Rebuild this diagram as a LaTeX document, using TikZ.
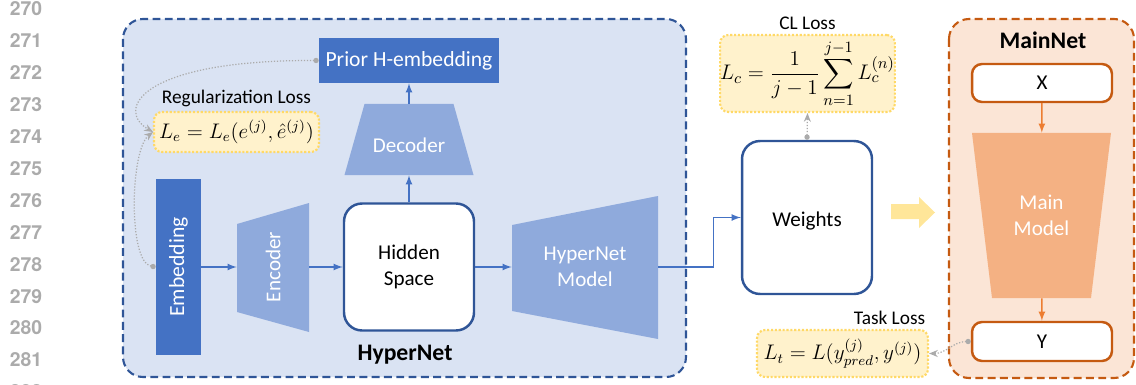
\documentclass[tikz,border=0pt]{standalone}
\usepackage{fontspec}
\setmainfont{Carlito}
\newfontfamily\numfont{TeX Gyre Heros}
\usepackage{amsmath}
\usepackage{graphicx}
\usetikzlibrary{positioning,arrows.meta}

\definecolor{hyperfill}{HTML}{DAE3F3}
\definecolor{hyperline}{HTML}{2F5597}
\definecolor{embblue}{HTML}{4472C4}
\definecolor{trapblue}{HTML}{8FAADC}
\definecolor{flowblue}{HTML}{4472C4}
\definecolor{lossfill}{HTML}{FFF2CC}
\definecolor{lossline}{HTML}{FFD966}
\definecolor{bigarrow}{HTML}{FFE699}
\definecolor{mainfill}{HTML}{FBE5D6}
\definecolor{mainline}{HTML}{C55A11}
\definecolor{mainmodel}{HTML}{F4B183}
\definecolor{mainarrow}{HTML}{ED7D31}
\definecolor{dotgray}{HTML}{ABABAB}
\definecolor{numgray}{HTML}{ABABAB}

\begin{document}
\begin{tikzpicture}[x=0.02cm, y=-0.02cm,
    lineno/.style={font=\numfont\bfseries\fontsize{11}{13}\selectfont, text=numgray},
    netframe/.style={rounded corners=0.4cm, line width=1.2pt, dash pattern=on 4.5pt off 2.5pt},
    block/.style={fill=embblue, text=white, inner sep=0pt, font=\fontsize{12.3}{15}\selectfont},
    trap/.style={inner sep=0pt, text=white, align=center, font=\fontsize{12}{14.6}\selectfont},
    roundbox/.style={draw=hyperline, fill=white, line width=1.4pt, rounded corners=0.36cm,
      align=center, inner sep=0pt, font=\fontsize{12}{14.6}\selectfont},
    lossbox/.style={draw=lossline, fill=lossfill, densely dotted, line width=1.2pt,
      rounded corners=0.16cm, inner sep=0pt, font=\fontsize{11.5}{14}\selectfont},
    losslabel/.style={font=\fontsize{11}{13.4}\selectfont, inner sep=2pt},
    iobox/.style={draw=mainline, fill=white, line width=1.4pt, rounded corners=0.2cm,
      minimum width=2.8cm, inner sep=0pt, font=\fontsize{12}{14.6}\selectfont},
    flow/.style={draw=flowblue, line width=0.8pt, -latex},
    mainflow/.style={draw=mainarrow, line width=0.8pt, -latex},
    dotlink/.style={draw=dotgray, densely dotted, line width=0.7pt,
      {Circle[length=3pt]}-{Stealth[length=5pt,width=4pt]}},
    title/.style={font=\bfseries\fontsize{13.5}{16}\selectfont}
    ]
\useasboundingbox (0,0) rectangle (1136,385);

\foreach \n [count=\i from 0] in {270,...,282}
  \node[lineno] at (26,{9+31.9*\i}) {\n};

% frames
\draw[netframe, draw=hyperline, fill=hyperfill] (123,19) rectangle (686,377);
\draw[netframe, draw=mainline, fill=mainfill] (949,19) rectangle (1134,378);

% hypernet
\node (prior) [block, minimum width=3.6cm, minimum height=0.9cm] at (409,60.5) {Prior H-embedding};
\fill[trapblue] (364.5,104) -- (453.5,104) -- (473.5,175) -- (344.5,175) -- cycle;
\node (dec) [trap, minimum width=2.58cm, minimum height=1.42cm, text height=15pt] at (409,139.5) {Decoder};
\node (hidden) [roundbox, minimum width=2.6cm, minimum height=2.54cm] at (409,267) {Hidden\\Space};
\node (emb) [block, minimum width=0.9cm, minimum height=3.54cm] at (178.5,267) {\rotatebox{90}{Embedding}};
\fill[trapblue] (237,224) -- (309,203) -- (309,332) -- (237,312) -- cycle;
\node (enc) [trap, minimum width=1.44cm, minimum height=2.58cm] at (273,267) {\rotatebox{90}{Encoder}};
\fill[trapblue] (512,225) -- (658,196) -- (658,339) -- (512,311) -- cycle;
\node (hm) [trap, minimum width=2.92cm, minimum height=2.86cm] at (585,267) {HyperNet\\Model};
\node[title] at (405,355) {HyperNet};
\node (reg) [lossbox, minimum width=3.3cm, minimum height=0.8cm] at (236.5,132) {$L_e = L_e(e^{(j)}, \hat{e}^{(j)})$};
\node [losslabel, above=0pt of reg] {Regularization Loss};

% weights and losses
\node (weights) [roundbox, minimum width=2.6cm, minimum height=3.06cm, text height=12pt] at (807,217.5) {Weights};
\node (cl) [lossbox, minimum width=3.42cm, minimum height=1.54cm, font=\fontsize{12.3}{14}\selectfont] at (807.5,73.5) {$L_c = \dfrac{1}{j-1}\displaystyle\sum_{n=1}^{j-1} L_c^{(n)}$};
\node [losslabel, above=0pt of cl] {CL Loss};
\node (task) [lossbox, minimum width=3.42cm, minimum height=0.94cm] at (842.5,353.5) {$L_t = L(y^{(j)}_{pred}, y^{(j)})$};
\node [losslabel, above=0pt of task.north east, anchor=south east] {Task Loss};
\fill[bigarrow] (891,204) -- (919,204) -- (919,197) -- (935,212.5) -- (919,228) -- (919,219) -- (891,219) -- cycle;

% mainnet
\node[title] at (1043,40) {MainNet};
\node (inx) [iobox, minimum height=0.76cm] at (1042,83) {X};
\fill[mainmodel] (972,133) -- (1111,133) -- (1091,298) -- (992,298) -- cycle;
\node (mm) [trap, minimum width=2.78cm, minimum height=3.3cm] at (1041.5,215.5) {Main\\Model};
\node (outy) [iobox, minimum height=0.78cm] at (1042,341.5) {Y};

\draw[flow] (emb) -- (enc);
\draw[flow] (enc) -- (hidden);
\draw[flow] (hidden) -- (hm);
\draw[flow] (hidden) -- (dec);
\draw[flow] (dec) -- (prior);
\draw[flow] (hm.east) -- ++(55,0) |- (weights.west);
\draw[mainflow] (inx) -- (mm);
\draw[mainflow] (mm) -- (outy);
\draw[dotlink] (weights.north) -- (cl.south);
\draw[dotlink] (outy.west) to[out=180, in=0] (task.east);
\draw[dotlink] (prior.west) .. controls (140,60) and (115,110) .. (reg.west);
\draw[dotlink] (emb.west) .. controls (128,262) and (130,150) .. (reg.west);
\end{tikzpicture}
\end{document}
